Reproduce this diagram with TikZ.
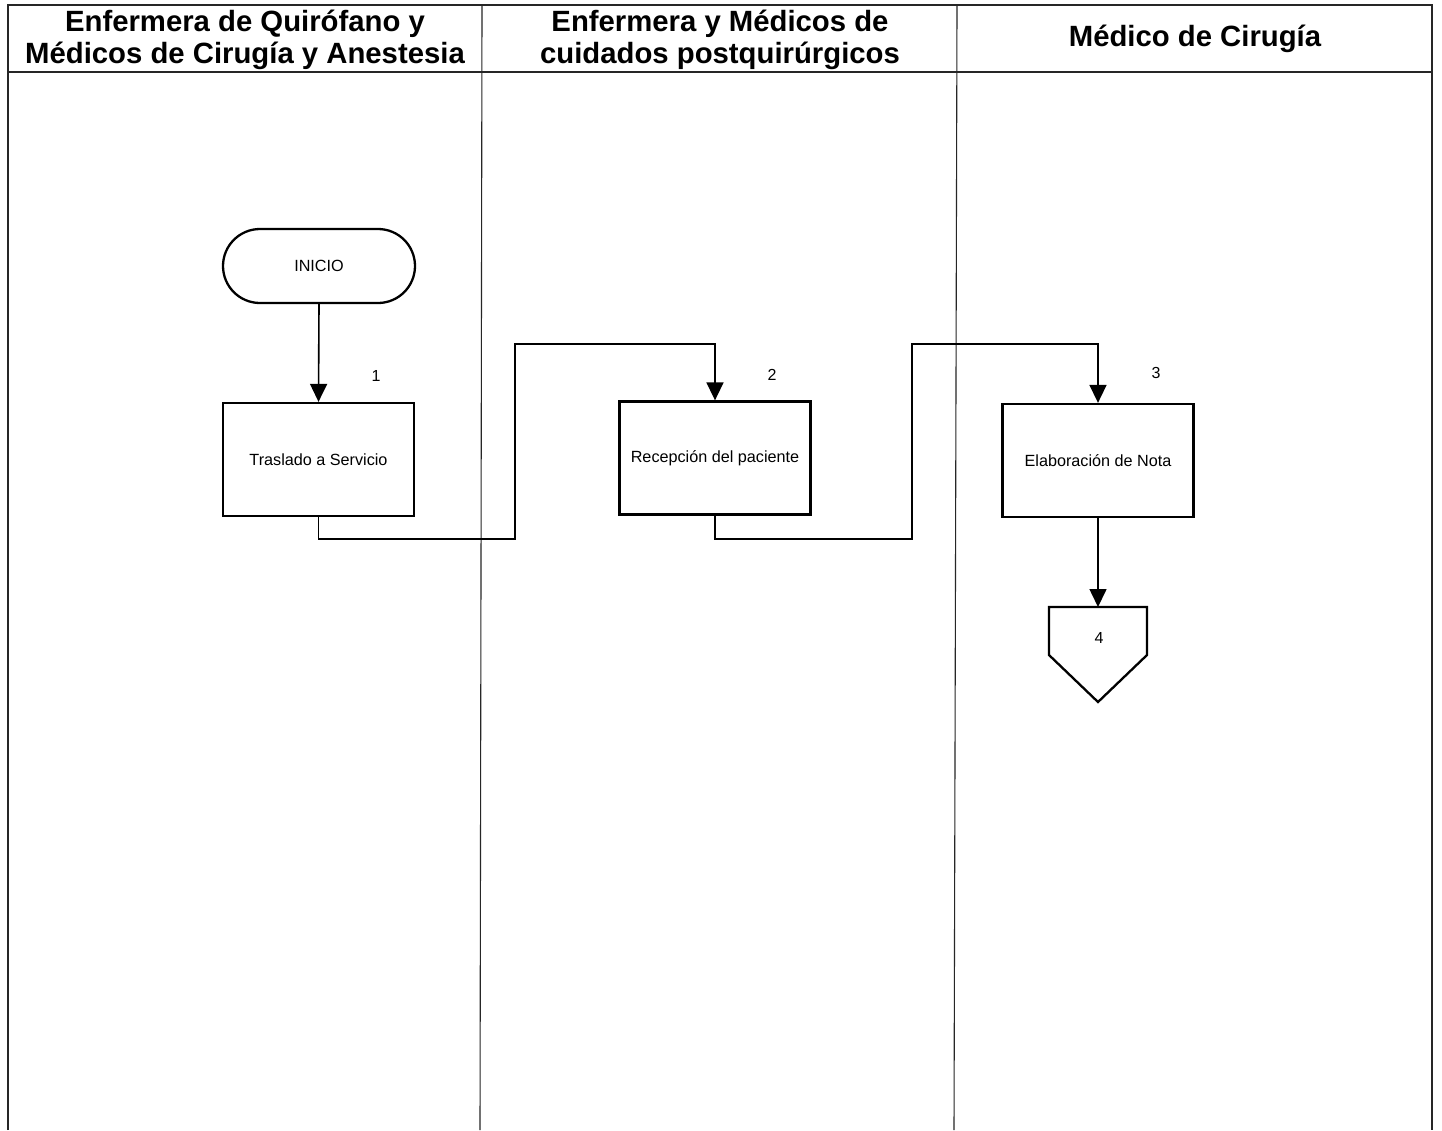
\documentclass[tikz,border=0pt]{standalone}
\usepackage{fontspec}
\setmainfont{Liberation Sans}
\usetikzlibrary{arrows.meta,shapes.misc}
\begin{document}
\begin{tikzpicture}[x=1pt,y=-1pt,
  frame/.style={line width=1.1pt,draw=black!85},
  head/.style={font=\bfseries\fontsize{29.3}{32}\selectfont,align=center,inner sep=0pt},
  stepbox/.style={draw,line width=2.3pt,minimum width=191pt,minimum height=113pt,inner sep=0pt,font=\fontsize{16.2}{19}\selectfont},
  term/.style={draw,line width=2.3pt,rounded rectangle,minimum width=192pt,minimum height=74pt,inner sep=0pt,font=\fontsize{16.2}{19}\selectfont},
  num/.style={font=\fontsize{16}{19}\selectfont,inner sep=0pt},
  flow/.style={line width=1.6pt,-{Triangle[width=17pt,length=18pt]}},
]
\useasboundingbox (0,0) rectangle (1442,1130);
\fill[white] (0,0) rectangle (1442,1130);
% frame
\draw[frame] (8,1130) -- (8,5) -- (1432,5) -- (1432,1130);
\draw[frame] (8,72) -- (1432,72);
\draw[frame] (482,5) -- (480,1130);
\draw[frame] (957,5) -- (954,1130);
% headers
\node[head] (h1) at (245,40) {Enfermera de Quirófano y\\Médicos de Cirugía y Anestesia};
\node[head] (h2) at (720,40) {Enfermera y Médicos de\\cuidados postquirúrgicos};
\node[head] (h3) at (1195,39) {Médico de Cirugía};
% nodes
\node[term] (ini) at (319,266) {INICIO};
\node[stepbox] (b1) at (318.5,459.5) {Traslado a Servicio};
\node[stepbox] (b2) at (715,458) {Recepción del paciente};
\node[stepbox] (b3) at (1098,460.5) {Elaboración de Nota};
\node[num] (n1) at (376,376) {1};
\node[num] (n2) at (772,375) {2};
\node[num] (n3) at (1156,373) {3};
% off-page connector
\coordinate (c4top) at (1098,607);
\draw[line width=2.3pt,line join=miter] (1049,607) -- (1147,607) -- (1147,655) -- (1098,702) -- (1049,655) -- cycle;
\node[num] (n4) at (1099,638) {4};
% connectors
\draw[flow] (ini.south) -- (b1.north);
\draw[flow] (b1.south) -- (318.5,539) -- (515,539) -- (515,344) -- (715,344) -- (b2.north);
\draw[flow] (b2.south) -- (715,539) -- (912,539) -- (912,344) -- (1098,344) -- (b3.north);
\draw[flow] (b3.south) -- (c4top);
\end{tikzpicture}
\end{document}
